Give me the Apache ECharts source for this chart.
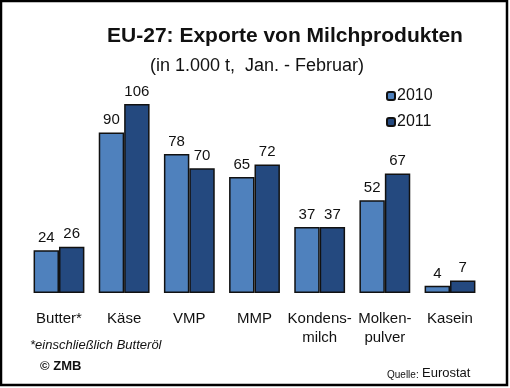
<!DOCTYPE html>
<html>
<head>
<meta charset="utf-8">
<script src="https://cdn.jsdelivr.net/npm/echarts@6/dist/echarts.min.js"></script>
<style>html,body{margin:0;padding:0;background:#fff;}#c{width:510px;height:388px;}</style>
</head>
<body>
<div id="c"></div>
<script>
const categories = ['Butter*', 'Käse', 'VMP', 'MMP', 'Kondens-\nmilch', 'Molken-\npulver', 'Kasein'];
const values2010 = [24, 90, 78, 65, 37, 52, 4];
const values2011 = [26, 106, 70, 72, 37, 67, 7];
const seriesNames = ['2010', '2011'];

const chart = echarts.init(document.getElementById('c'), null, {renderer: 'canvas'});
const font = 'Liberation Sans, Arial, sans-serif';
const labelStyle = {show: true, position: 'top', distance: 5, fontSize: 15, color: '#111', fontFamily: font};
chart.setOption({
  animation: false,
  backgroundColor: '#fff',
  title: [
    {text: 'EU-27: Exporte von Milchprodukten', left: 280, top: 21, textAlign: 'center',
     textStyle: {fontSize: 21, fontWeight: 'bold', color: '#111', fontFamily: font}},
    {text: '(in 1.000 t,  Jan. - Februar)', left: 252, top: 52, textAlign: 'center',
     textStyle: {fontSize: 18, fontWeight: 'normal', color: '#111', fontFamily: font}}
  ],
  legend: {
    orient: 'vertical', left: 381, top: 83, itemWidth: 8, itemHeight: 8, itemGap: 10,
    textStyle: {fontSize: 16, color: '#111', fontFamily: font, padding: [0,0,0,-3]},
    data: seriesNames
  },
  grid: {left: 26.4, right: 27.4, top: 79, bottom: 95, containLabel: false},
  xAxis: {
    type: 'category', data: categories,
    axisLine: {show: false}, axisTick: {show: false},
    axisLabel: {margin: 16, fontSize: 15, color: '#111', fontFamily: font, lineHeight: 19, interval: 0}
  },
  yAxis: {type: 'value', min: 0, max: 120, show: false, splitLine: {show: false}},
  series: [
    {name: seriesNames[0], type: 'bar', data: values2010, barGap: '0%', barCategoryGap: '22%',
     itemStyle: {color: '#4f81bd', borderColor: '#111', borderWidth: 1.5}, label: labelStyle},
    {name: seriesNames[1], type: 'bar', data: values2011,
     itemStyle: {color: '#24497f', borderColor: '#111', borderWidth: 1.5}, label: labelStyle}
  ],
  graphic: [
    {type: 'rect', shape: {x: 1, y: 1, width: 506, height: 384}, style: {fill: 'none', stroke: '#000', lineWidth: 2.5}, z: 100},
    {type: 'text', left: 30, top: 339, style: {text: '*einschließlich Butteröl', font: 'italic 13px ' + font, fill: '#111'}},
    {type: 'text', left: 40, top: 360, style: {text: '© ZMB', font: 'bold 13px ' + font, fill: '#111'}},
    {type: 'text', left: 387, top: 370, style: {text: 'Quelle:', font: '10px ' + font, fill: '#111'}},
    {type: 'text', left: 422, top: 367, style: {text: 'Eurostat', font: '13px ' + font, fill: '#111'}}
  ]
});
</script>
</body>
</html>
